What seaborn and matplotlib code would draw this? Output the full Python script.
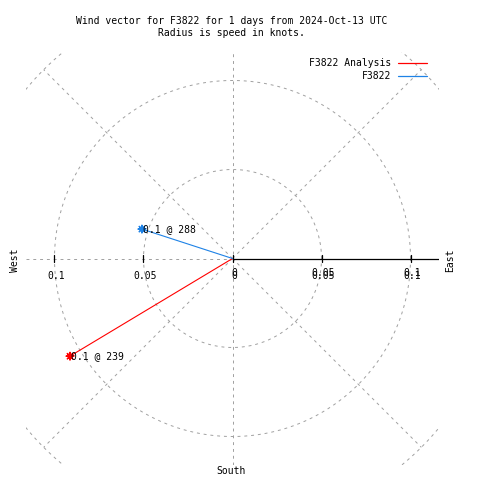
import numpy as np
import pandas as pd
import matplotlib
matplotlib.use("Agg")
import matplotlib.pyplot as plt
import seaborn as sns

# --- data ---
SERIES = ["F3822 Analysis", "F3822"]
SPEED_KT = [0.1065, 0.0535]          # vector length (knots)
DIRECTION_DEG = [239, 288]           # direction (deg from north)
LABELS = ["0.1 @ 239", "0.1 @ 288"]
COLORS = {"F3822 Analysis": "#ff0000", "F3822": "#1e82e6"}

RING_RADII = [0.05, 0.10, 0.15]
RAY_ANGLES = [45, 135, 225, 315]
X_TICKS = [-0.1, -0.05, 0.0, 0.05, 0.1]
X_TICK_LABELS = ["0.1", "0.05", "0", "0.05", "0.1"]
LIM = 0.116

TITLE = "Wind vector for F3822 for 1 days from 2024-Oct-13 UTC\nRadius is speed in knots."

GRID = "#a0a0a0"
DASH = (0, (3, 4))
FONT = "DejaVu Sans Mono"
FS = 7

sns.set_style("white")
plt.rcParams["font.family"] = [FONT, "DejaVu Sans"]
plt.rcParams["text.color"] = "black"

W = H = 480
fig = plt.figure(figsize=(4.8, 4.8), dpi=100)
cx, cy = 232.5, 258.5
half = 206.5
ax = fig.add_axes([(cx - half) / W, 1 - (cy + half) / H, 2 * half / W, 2 * half / H])
ax.set_xlim(-LIM, LIM)
ax.set_ylim(-LIM, LIM)
ax.set_axis_off()

# polar grid
t = np.linspace(0, 2 * np.pi, 721)
for r in RING_RADII:
    ax.plot(r * np.cos(t), r * np.sin(t), color=GRID, lw=0.7, ls=DASH)
for a in RAY_ANGLES:
    th = np.deg2rad(a)
    ax.plot([0, 0.15 * np.cos(th)], [0, 0.15 * np.sin(th)], color=GRID, lw=0.7, ls=DASH)
ax.plot([0, 0], [-LIM, LIM], color=GRID, lw=0.7, ls=DASH)
ax.plot([-LIM, 0], [0, 0], color=GRID, lw=0.7, ls=DASH)
ax.plot([0, LIM], [0, 0], color="black", lw=0.9)

# ticks on the radial axis (right side labels are printed twice, as in the original)
for xv, lab in zip(X_TICKS, X_TICK_LABELS):
    ax.plot([xv, xv], [-0.002, 0.002], color="black", lw=0.9)
    offs = [-17.5] if xv < 0 else [-17.5, -14.5]
    for oy in offs:
        ax.annotate(lab, xy=(xv, 0), xytext=(1.5, oy), textcoords="offset pixels",
                    ha="center", va="center", fontsize=FS, family=FONT, color="black")

# wind vectors
rad = np.deg2rad(DIRECTION_DEG)
xs = np.array(SPEED_KT) * np.sin(rad)
ys = np.array(SPEED_KT) * np.cos(rad)
seg = pd.DataFrame({
    "series": np.repeat(SERIES, 2),
    "x": np.ravel(np.column_stack([np.zeros(len(xs)), xs])),
    "y": np.ravel(np.column_stack([np.zeros(len(ys)), ys])),
})
for s in SERIES:
    sns.lineplot(data=seg[seg["series"] == s], x="x", y="y", sort=False, estimator=None,
                 color=COLORS[s], lw=0.8, ax=ax, legend=False)
ends = pd.DataFrame({"series": SERIES, "x": xs, "y": ys})
sns.scatterplot(data=ends, x="x", y="y", hue="series", palette=COLORS, marker=(8, 2, 0),
                s=30, linewidth=0.9, ax=ax, legend=False)
for xv, yv, lab in zip(xs, ys, LABELS):
    ax.annotate(lab, xy=(xv, yv), xytext=(1, 0), textcoords="offset pixels",
                ha="left", va="center", fontsize=FS, family=FONT, color="black")

# compass labels and title
fig.text(15 / W, 1 - 260 / H, "West", rotation=90, ha="center", va="center", fontsize=FS)
fig.text(450 / W, 1 - 260 / H, "East", rotation=90, ha="center", va="center", fontsize=FS)
fig.text(231.5 / W, 1 - 471 / H, "South", ha="center", va="center", fontsize=FS)
fig.text(231.5 / W, 1 - 27 / H, TITLE, ha="center", va="center", fontsize=FS,
         linespacing=1.35, multialignment="center")

# legend
for i, s in enumerate(SERIES):
    yy = 1 - (62.5 + 13.5 * i) / H
    fig.text(391 / W, yy, s, ha="right", va="center", fontsize=FS)
    fig.add_artist(plt.Line2D([398 / W, 427 / W], [yy, yy], color=COLORS[s], lw=0.9,
                              transform=fig.transFigure))

fig.savefig("out.png", dpi=100)
